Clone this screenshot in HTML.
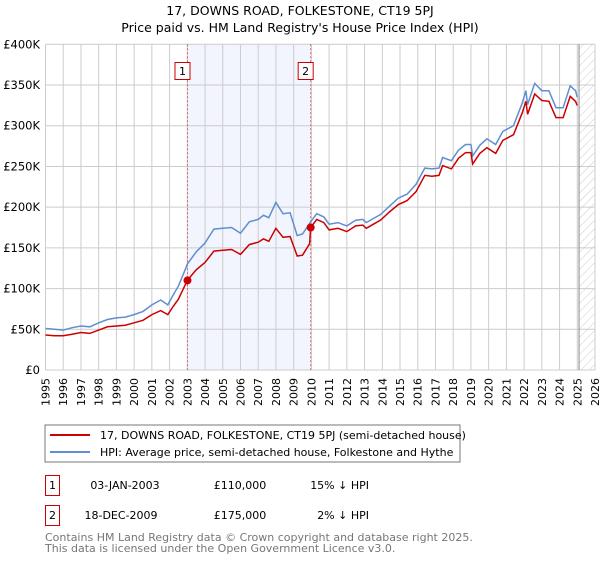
<!DOCTYPE html>
<html><head><meta charset="utf-8"><style>
body{margin:0;background:#fff;width:600px;height:560px;overflow:hidden;font-family:"DejaVu Sans","Liberation Sans",sans-serif}
svg text{font-family:"DejaVu Sans","Liberation Sans",sans-serif}
</style></head><body>
<svg id="c" width="600" height="560" xmlns="http://www.w3.org/2000/svg">
<defs><pattern id="hatch" width="6" height="6" patternUnits="userSpaceOnUse" patternTransform="rotate(45)"><line x1="0" y1="0" x2="0" y2="6" stroke="#ccc" stroke-width="1"/></pattern></defs>
<text x="300" y="15" text-anchor="middle" font-size="12.5">17, DOWNS ROAD, FOLKESTONE, CT19 5PJ</text>
<text x="300" y="32" text-anchor="middle" font-size="12.5">Price paid vs. HM Land Registry's House Price Index (HPI)</text>
<g id="grid"></g><g id="series"></g><g id="axes"></g>
<rect x="45" y="425" width="415" height="37" fill="#fff" stroke="#777"/>
<line x1="50" y1="435" x2="90" y2="435" stroke="#cc0000" stroke-width="2"/>
<text x="100" y="439" font-size="11">17, DOWNS ROAD, FOLKESTONE, CT19 5PJ (semi-detached house)</text>
<line x1="50" y1="452" x2="90" y2="452" stroke="#5f8fd0" stroke-width="2"/>
<text x="100" y="456" font-size="11">HPI: Average price, semi-detached house, Folkestone and Hythe</text>
<g>
<rect x="45.5" y="475.5" width="14" height="20" fill="#fff" stroke="#cc0000"/>
<text x="52.5" y="489" text-anchor="middle" font-size="11">1</text>
<text x="125" y="489" text-anchor="middle" font-size="11">03-JAN-2003</text>
<text x="240" y="489" text-anchor="middle" font-size="11">£110,000</text>
<text x="369" y="489" text-anchor="end" font-size="11">15% ↓ HPI</text></g>
<g>
<rect x="45.5" y="505.5" width="14" height="20" fill="#fff" stroke="#cc0000"/>
<text x="52.5" y="519" text-anchor="middle" font-size="11">2</text>
<text x="121" y="519" text-anchor="middle" font-size="11">18-DEC-2009</text>
<text x="240" y="519" text-anchor="middle" font-size="11">£175,000</text>
<text x="369" y="519" text-anchor="end" font-size="11">2% ↓ HPI</text></g>
<text x="45" y="541" font-size="11" fill="#777">Contains HM Land Registry data © Crown copyright and database right 2025.</text>
<text x="45" y="552" font-size="11" fill="#777">This data is licensed under the Open Government Licence v3.0.</text>
</svg>
<script>
const years=[1995.0,1995.5,1996.0,1996.5,1997.0,1997.5,1998.0,1998.5,1999.0,1999.5,2000.0,2000.5,2001.0,2001.5,2001.9,2002.2,2002.5,2002.8,2003.0,2003.5,2004.0,2004.5,2005.0,2005.5,2006.0,2006.5,2007.0,2007.3,2007.6,2008.0,2008.4,2008.8,2009.2,2009.5,2009.9,2009.96,2010.3,2010.7,2011.0,2011.5,2012.0,2012.5,2012.9,2013.1,2013.5,2013.9,2014.4,2014.9,2015.4,2015.9,2016.4,2016.8,2017.2,2017.4,2017.9,2018.3,2018.7,2019.0,2019.1,2019.5,2019.9,2020.4,2020.8,2021.4,2021.9,2022.1,2022.2,2022.6,2023.0,2023.4,2023.8,2024.2,2024.6,2024.9,2025.0];
const hpiValues=[51,50,49,52,54,53,58,62,64,65,68,72,80,86,80,92,103,119,130,145,156,173,174,175,168,182,185,190,187,206,192,193,165,167,180,182,192,188,179,181,177,184,185,181,186,191,201,211,216,228,248,247,248,261,257,270,277,277,263,276,284,277,293,300,328,343,326,352,343,343,322,322,349,343,335];
const priceValues=[43,42,42,44,46,45,49,53,54,55,58,61,68,73,68,78,87,101,110,123,132,146,147,148,142,154,157,161,158,174,163,164,140,141,155,175,185,181,172,174,170,177,178,174,179,184,194,203,208,219,239,238,239,251,247,260,267,267,253,266,273,266,282,289,316,330,314,339,331,330,310,310,336,330,325];
const saleYears=[2003.01,2009.96];
const saleValues=[110,175];
const saleLabels=["1","2"];
const yTicks=[0,50,100,150,200,250,300,350,400];
const yTickLabels=["£0","£50K","£100K","£150K","£200K","£250K","£300K","£350K","£400K"];
const xTicks=[1995,1996,1997,1998,1999,2000,2001,2002,2003,2004,2005,2006,2007,2008,2009,2010,2011,2012,2013,2014,2015,2016,2017,2018,2019,2020,2021,2022,2023,2024,2025,2026];
const dataEnd=2025.1;
const NS="http://www.w3.org/2000/svg";
const X=y=>45.5+(y-1995)*(595-45.5)/31;
const Y=v=>370-v*(370-44.3)/400;
function mk(t,a,p){const e=document.createElementNS(NS,t);for(const k in a)e.setAttribute(k,a[k]);p.appendChild(e);return e;}
const g=document.getElementById('grid'),s=document.getElementById('series'),ax=document.getElementById('axes');
const shade=mk('rect',{x:X(saleYears[0]),y:Y(400),width:X(saleYears[1])-X(saleYears[0]),height:Y(0)-Y(400),fill:'#eef2fc',opacity:0.75},g);


const hat=mk('rect',{x:X(dataEnd),y:Y(400),width:X(2026)-X(dataEnd),height:Y(0)-Y(400),fill:'url(#hatch)'},g);


xTicks.forEach(t=>{const l=mk('line',{x1:X(t),x2:X(t),y1:Y(400),y2:Y(0),stroke:'#ccc','stroke-width':1},g);


const tx=mk('text',{x:0,y:0,'font-size':11,'text-anchor':'end',transform:`translate(${X(t)+4},378) rotate(-90)`},ax);tx.textContent=t;

});
yTicks.forEach((t,i)=>{const l=mk('line',{x1:X(1995),x2:X(2026),y1:Y(t),y2:Y(t),stroke:'#ccc','stroke-width':1},g);


const tx=mk('text',{x:40,y:Y(t)+4,'font-size':11.5,'text-anchor':'end'},ax);tx.textContent=yTickLabels[i];

});
const el=mk('line',{x1:X(dataEnd),x2:X(dataEnd),y1:Y(400),y2:Y(0),stroke:'#888','stroke-width':1},g);


saleYears.forEach((y,i)=>{const l=mk('line',{x1:X(y),x2:X(y),y1:Y(400),y2:Y(0),stroke:'#e06060','stroke-width':1,'stroke-dasharray':'2,2'},g);


const r=mk('rect',{x:X(y)-12.5,y:62.5,width:15,height:17,fill:'#fff',stroke:'#cc0000'},ax);


const tx=mk('text',{x:X(y)-5,y:75,'font-size':11,'text-anchor':'middle'},ax);tx.textContent=saleLabels[i];

});
const pts=v=>years.map((y,i)=>X(y).toFixed(1)+','+Y(v[i]).toFixed(1)).join(' ');
const hl=mk('polyline',{points:pts(hpiValues),fill:'none',stroke:'#5f8fd0','stroke-width':1.5},s);


const pl=mk('polyline',{points:pts(priceValues),fill:'none',stroke:'#cc0000','stroke-width':1.5},s);


saleYears.forEach((y,i)=>{const c=mk('circle',{cx:X(y),cy:Y(saleValues[i]),r:4,fill:'#cc0000'},s);

});
</script>
</body></html>
